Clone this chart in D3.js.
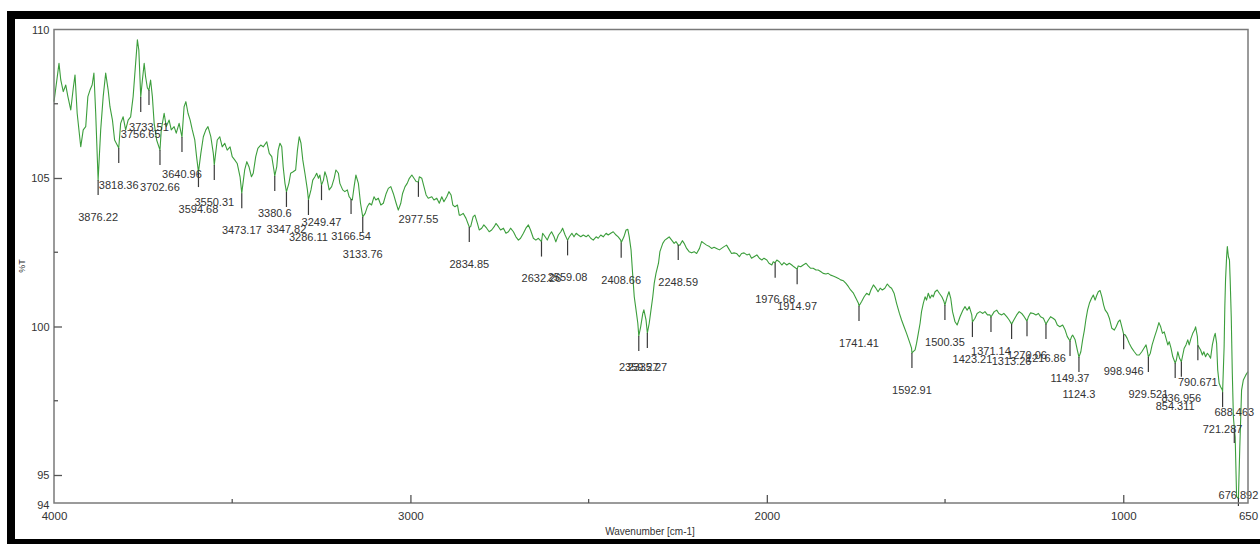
<!DOCTYPE html>
<html>
<head>
<meta charset="utf-8">
<script src="https://cdn.jsdelivr.net/npm/d3@7"></script>
<style>
  html, body { margin: 0; padding: 0; background: #fff; }
  svg { display: block; font-family: Arial, "Liberation Sans", sans-serif; }
</style>
</head>
<body>
<svg id="chart" width="1260" height="544"></svg>
<script>
// ---- FTIR spectrum: wavenumber (cm-1) and transmittance (%T) ----
const wavenumber = [
  4000,3992,3986,3981,3974,3967,3961,3953,3946,3941,3935,3925,3918,3911,3905,3899,3893,3888,3883,3876.22,
  3869,3862,3855,3848,3843,3836,3830,3818.36,3813,3806,3799,3792,3785,3778,3771,3766,3762,3756.65,3752,3747,
  3743,3738,3733.51,3729,3724,3719,3712,3702.66,3699,3691,3685,3677,3671,3663,3657,3649,3640.96,3635,3630,3624,
  3618,3612,3605,3600,3594.68,3588,3581,3574,3568,3560,3553,3550.31,3542,3535,3528,3521,3514,3506,3500,3493,
  3486,3478,3473.17,3465,3459,3453,3446,3441,3434,3428,3420,3413,3403,3396,3389,3383,3380.6,3375,3371,3366,
  3361,3357,3352,3347.82,3341,3336,3329,3322,3317,3312,3307,3302,3296,3289,3286.11,3279,3274,3268,3263,3258,
  3254,3249.47,3244,3240,3235,3228,3221,3214,3209,3202,3198,3190,3184,3177,3172,3166.54,3163,3158,3153,3146,
  3140,3133.76,3127,3121,3115,3109,3102,3097,3090,3083,3076,3068,3062,3055,3048,3040,3034,3027,3022,3015,
  3009,3003,2996,2990,2984,2977.55,2975,2968,2962,2956,2950,2940,2934,2926,2919,2912,2906,2898,2892,2886,
  2881,2875,2868,2863,2859,2852,2844,2834.85,2831,2824,2819,2812,2807,2800,2794,2786,2779,2772,2765,2760,
  2753,2747,2739,2732,2725,2719,2711,2704,2697,2691,2683,2676,2669,2663,2655,2648,2641,2632.26,2629,2622,
  2616,2610,2604,2597,2592,2585,2578,2573,2566,2559.08,2554,2547,2541,2535,2529,2522,2515,2507,2501,2494,
  2487,2479,2473,2466,2459,2451,2445,2438,2431,2423,2417,2410,2408.66,2401,2395,2390,2386,2381,2376,2372,
  2367,2362,2359.27,2354,2348,2345,2339,2335.27,2330,2325,2320,2316,2311,2304,2300,2292,2286,2279,2274,2267,
  2260,2255,2248.59,2244,2237,2232,2225,2218,2211,2204,2197,2189,2183,2176,2169,2161,2155,2148,2141,2133,
  2127,2120,2113,2105,2099,2092,2085,2077,2071,2064,2056,2049,2043,2036,2028,2021,2014,2008,2000,1994,
  1986,1982,1976.68,1972,1965,1958,1952,1944,1937,1930,1924,1914.97,1912,1905,1898,1890,1884,1877,1870,1862,
  1856,1849,1842,1834,1828,1821,1814,1806,1799,1793,1785,1778,1771,1765,1757,1750,1743,1741.41,1734,1727,
  1720,1713,1708,1701,1694,1688,1682,1676,1669,1662,1656,1650,1643,1636,1628,1622,1615,1608,1600,1594,
  1592.91,1584,1580,1575,1570,1566,1561,1556,1552,1547,1542,1537,1533,1528,1522,1516,1509,1503,1500.35,1494,
  1489,1484,1479,1472,1466,1458,1450,1444,1438,1432,1425,1423.21,1416,1410,1402,1394,1388,1381,1374,1371.14,
  1362,1355,1349,1341,1335,1327,1320,1313.26,1307,1299,1292,1285,1278,1270.06,1266,1260,1252,1245,1238,1232,
  1224,1216.86,1210,1204,1196,1191,1185,1178,1170,1163,1157,1149.37,1145,1142,1135,1129,1124.3,1119,1114,1109,
  1105,1100,1095,1089,1084,1079,1074,1070,1065,1060,1055,1051,1044,1039,1032,1025,1020,1014,1009,1004,
  998.946,994,989,983,976,969,962,955,948,942,936,933,929.521,924,919,912,906,900,895,890,
  885,880,875,871,866,861,854.311,851,847,842,836.956,833,829,824,819,815,810,805,800,797,
  792,790.671,783,778,774,769,764,760,755,750,745,742,738,735,731,727,722,721.287,717,715,
  713,710,708,705,702,700,697,694,691,688.463,686,682,676.892,673,668,663,656,650
];
const transmittance = [
  107.57,108.30,108.86,108.30,107.91,108.13,107.74,107.29,108.02,108.47,107.18,106.05,106.62,106.73,107.74,107.96,108.13,108.53,107.18,104.93,
  106.62,107.74,108.53,107.96,107.40,106.95,106.28,106.01,106.84,107.06,106.62,106.95,107.06,107.74,108.86,109.65,109.31,107.73,108.30,108.86,
  108.41,108.03,107.96,108.30,107.74,106.84,106.28,105.94,106.62,107.18,106.73,106.95,106.62,106.73,106.51,106.84,106.38,107.40,107.57,107.18,
  106.95,106.62,106.28,105.72,105.20,105.83,106.39,106.62,106.73,106.39,105.83,105.44,106.28,106.39,106.05,106.17,105.94,106.05,105.72,105.61,
  105.49,105.04,104.49,105.27,105.55,105.38,105.04,105.16,105.72,106.00,106.11,106.05,106.22,105.83,105.72,105.27,105.07,105.38,105.94,106.17,
  106.05,105.38,104.82,104.53,104.82,105.16,105.21,105.27,105.94,106.39,106.17,105.61,105.16,104.60,104.26,104.60,104.93,105.04,105.16,104.99,
  105.10,104.76,104.93,105.21,105.04,104.60,104.71,104.99,105.27,105.16,104.82,104.60,104.54,104.60,104.37,104.29,104.26,104.71,105.10,104.82,
  104.15,103.69,103.81,104.03,104.15,104.09,104.37,104.26,104.32,104.09,104.15,104.48,104.65,104.71,104.48,104.15,103.92,104.15,104.48,104.71,
  104.82,104.99,105.10,104.99,104.88,104.87,105.04,104.99,104.71,104.43,104.32,104.37,104.26,104.32,104.15,104.37,104.20,104.37,104.54,104.43,
  104.09,104.03,104.09,103.75,103.75,103.81,103.64,103.35,103.36,103.70,103.75,103.47,103.25,103.31,103.42,103.31,103.19,103.25,103.36,103.47,
  103.36,103.25,103.31,103.14,103.19,103.31,103.19,103.02,102.91,102.97,103.14,103.31,103.42,103.25,102.97,102.91,102.97,102.86,103.14,103.02,
  102.91,103.08,103.19,103.02,102.85,103.08,103.19,103.31,103.08,102.90,103.02,103.14,103.02,103.14,103.08,103.02,103.08,103.02,103.08,102.97,
  102.91,103.02,102.97,103.08,103.02,103.14,103.08,103.14,103.19,103.08,103.02,102.91,102.82,103.02,103.25,103.27,103.02,102.58,101.68,101.00,
  100.56,100.11,99.68,99.99,100.44,100.56,100.22,99.78,100.11,100.56,101.00,101.45,101.79,102.13,102.52,102.80,102.91,102.97,103.02,102.91,
  102.80,102.86,102.74,102.74,102.89,102.80,102.63,102.52,102.48,102.52,102.46,102.63,102.86,102.80,102.74,102.69,102.63,102.67,102.63,102.58,
  102.63,102.69,102.74,102.58,102.46,102.48,102.46,102.35,102.46,102.48,102.41,102.44,102.30,102.35,102.41,102.30,102.24,102.30,102.24,102.13,
  102.07,102.18,102.15,102.24,102.18,102.07,102.15,102.07,102.13,102.07,102.01,101.93,102.04,102.01,102.07,102.13,102.04,101.96,101.96,101.90,
  101.90,101.85,101.79,101.77,101.79,101.73,101.70,101.66,101.62,101.57,101.54,101.45,101.34,101.23,101.12,100.95,100.78,100.69,100.84,101.00,
  101.12,101.06,101.23,101.40,101.29,101.17,101.29,101.23,101.29,101.43,101.34,101.29,101.12,100.78,100.44,100.22,99.99,99.77,99.49,99.27,
  99.11,99.21,99.43,99.77,100.11,100.50,100.78,101.00,100.89,101.12,100.95,101.06,101.00,101.17,101.23,101.12,101.00,100.84,100.72,101.00,
  101.17,100.95,100.50,100.16,100.05,100.33,100.55,100.67,100.55,100.67,100.39,100.15,100.28,100.44,100.50,100.44,100.50,100.39,100.39,100.32,
  100.50,100.55,100.44,100.39,100.44,100.33,100.22,100.08,100.22,100.39,100.50,100.44,100.33,100.18,100.33,100.46,100.44,100.39,100.44,100.33,
  100.28,100.08,100.22,100.33,100.27,100.22,100.05,99.99,100.05,99.88,99.66,99.51,99.66,99.71,99.55,99.21,98.97,99.15,99.55,99.88,
  100.22,100.56,100.78,100.95,101.06,100.89,101.06,101.17,101.21,101.00,100.72,100.56,100.44,100.28,99.94,99.88,99.99,100.16,100.22,99.99,
  99.74,99.71,99.60,99.43,99.27,99.15,99.04,99.04,99.15,99.27,99.38,99.21,98.97,99.10,99.38,99.66,99.88,100.13,99.99,99.77,
  99.82,99.60,99.38,99.49,99.27,98.98,98.77,98.87,99.15,98.93,98.81,99.04,99.27,99.38,99.55,99.38,99.60,99.77,99.88,99.99,
  99.66,99.37,99.21,99.04,99.15,98.98,99.10,99.04,98.93,99.38,99.66,99.77,99.43,98.54,98.09,97.97,97.86,97.79,99.32,100.67,
  101.57,102.35,102.69,102.35,102.24,101.57,100.33,98.42,96.96,96.58,96.29,94.27,94.21,95.95,97.86,98.20,98.37,98.48
];

// Picked peak positions (cm-1) as printed on the plot
const peakLabels = [
  "3876.22","3818.36","3756.65","3733.51","3702.66","3640.96","3594.68","3550.31","3473.17","3380.6",
  "3347.82","3286.11","3249.47","3166.54","3133.76","2977.55","2834.85","2632.26","2559.08","2408.66",
  "2359.27","2335.27","2248.59","1976.68","1914.97","1741.41","1592.91","1500.35","1423.21","1371.14",
  "1313.26","1270.06","1216.86","1149.37","1124.3","998.946","929.521","854.311","836.956","790.671",
  "721.287","688.463","676.892"
];

// Axis ticks
const xTickLabels = [4000, 3000, 2000, 1000, 650];
const xMinorTicks = [3500, 2500, 1500];
const yTickLabels = [110, 105, 100, 95, 94];
const yMinorTicks = [107.5, 102.5, 97.5];

// ---- drawing ----
const W = 1260, H = 544;
const plot = { left: 54, right: 1248, top: 29.5, bottom: 503 };

const svg = d3.select("#chart");
const x = d3.scaleLinear().domain([4000, 650]).range([plot.left, plot.right]);
const y = d3.scaleLinear().domain([95, 110]).range([475, plot.top]);

svg.append("rect").attr("width", W).attr("height", H).attr("fill", "#fff");

// heavy black border round the figure
svg.append("path")
  .attr("d", "M7,11H1260V19H15V539H1260V544H7Z")
  .attr("fill", "#000");

// linear interpolation of the spectrum at a given wavenumber
function valueAt(w) {
  for (let i = 0; i < wavenumber.length - 1; i++) {
    const a = wavenumber[i], b = wavenumber[i + 1];
    if (w <= a && w >= b) {
      const t = (a - w) / (a - b);
      return transmittance[i] + t * (transmittance[i + 1] - transmittance[i]);
    }
  }
  return transmittance[transmittance.length - 1];
}

// spectrum trace
const points = d3.zip(wavenumber, transmittance);
svg.append("path")
  .datum(points)
  .attr("fill", "none")
  .attr("stroke", "#3c9e3c")
  .attr("stroke-width", 1.1)
  .attr("stroke-linejoin", "round")
  .attr("d", d3.line().x(d => x(d[0])).y(d => y(d[1])));

// peak markers and labels (labels sit below each marker; a few are nudged)
const labelDrop = {
  "2359.27": 31, "2335.27": 34, "688.463": -16, "676.892": -3,
  "1371.14": 34, "1270.06": 34, "1216.86": 34, "854.311": 43, "836.956": 36
};
const markerLen = 15;
const peaks = svg.append("g");
peakLabels.forEach(lbl => {
  const w = +lbl;
  const px = x(w);
  const py = y(valueAt(w));
  peaks.append("line")
    .attr("x1", px).attr("x2", px)
    .attr("y1", py).attr("y2", Math.min(py + markerLen, plot.bottom + 3))
    .attr("stroke", "#3a3a3a").attr("stroke-width", 1.2);
  const drop = (lbl in labelDrop) ? labelDrop[lbl] : 37;
  peaks.append("text")
    .attr("x", px).attr("y", py + drop)
    .attr("dy", "0.35em")
    .attr("text-anchor", "middle")
    .attr("font-size", 11)
    .attr("fill", "#333")
    .text(lbl);
});

// plot frame
svg.append("rect")
  .attr("x", plot.left).attr("y", plot.top)
  .attr("width", plot.right - plot.left).attr("height", plot.bottom - plot.top)
  .attr("fill", "none").attr("stroke", "#7a7a7a").attr("stroke-width", 1.5);

// x axis
const gx = svg.append("g")
  .attr("transform", `translate(0,${plot.bottom})`)
  .call(d3.axisBottom(x).tickValues(xTickLabels).tickSize(-8).tickPadding(9).tickFormat(d3.format("d")));
gx.select(".domain").remove();
gx.selectAll(".tick line").attr("stroke", "#555").attr("stroke-width", 1.3)
  .filter(d => d === 4000 || d === 650).remove();
gx.selectAll(".tick text").attr("font-size", 11.5).attr("fill", "#333")
  .attr("font-family", "Arial, 'Liberation Sans', sans-serif");
gx.selectAll(".minor").data(xMinorTicks).enter().append("line")
  .attr("x1", d => x(d)).attr("x2", d => x(d))
  .attr("y1", 0).attr("y2", -4)
  .attr("stroke", "#555").attr("stroke-width", 1.3);

// y axis
const gy = svg.append("g")
  .attr("transform", `translate(${plot.left},0)`)
  .call(d3.axisLeft(y).tickValues(yTickLabels).tickSize(-8).tickPadding(4.5).tickFormat(d3.format("d")));
gy.select(".domain").remove();
gy.selectAll(".tick line").attr("stroke", "#555").attr("stroke-width", 1.3)
  .filter(d => d === 94 || d === 110).remove();
gy.selectAll(".tick text").attr("font-size", 11).attr("fill", "#333")
  .attr("font-family", "Arial, 'Liberation Sans', sans-serif");
gy.selectAll(".minor").data(yMinorTicks).enter().append("line")
  .attr("x1", 0).attr("x2", 4)
  .attr("y1", d => y(d)).attr("y2", d => y(d))
  .attr("stroke", "#555").attr("stroke-width", 1.3);

// axis titles
svg.append("text")
  .attr("x", 650).attr("y", 531).attr("dy", "0.35em")
  .attr("text-anchor", "middle").attr("font-size", 10).attr("fill", "#333")
  .text("Wavenumber [cm-1]");
svg.append("text")
  .attr("transform", "translate(22,266) rotate(-90)")
  .attr("dy", "0.35em")
  .attr("text-anchor", "middle").attr("font-size", 9).attr("fill", "#333")
  .text("%T");
</script>
</body>
</html>
